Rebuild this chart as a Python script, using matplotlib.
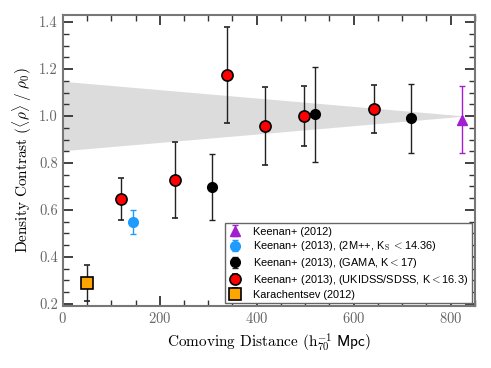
import numpy as np
import matplotlib.pyplot as plt

plt.rcParams['mathtext.fontset'] = 'cm'
plt.rcParams['font.family'] = 'cmr10'
plt.rcParams['axes.formatter.use_mathtext'] = True

# Data
kar_x, kar_y, kar_e = [50], [0.288], [0.078]
red_x = [121, 232, 339, 417, 498, 641]
red_y = [0.646, 0.729, 1.174, 0.959, 0.999, 1.031]
red_e = [0.090, 0.162, 0.205, 0.166, 0.128, 0.103]
blk_x = [307, 521, 718]
blk_y = [0.697, 1.007, 0.990]
blk_e = [0.140, 0.203, 0.148]
blu_x, blu_y, blu_e = [144], [0.548], [0.052]
pur_x, pur_y, pur_e = [824], [0.984], [0.143]

band_x = [0, 830]
band_lo = [0.852, 1.0]
band_hi = [1.148, 1.0]

fig = plt.figure(figsize=(4.91, 3.68), dpi=100)
ax = fig.add_axes([0.128, 0.168, 0.839, 0.791])

ax.fill_between(band_x, band_lo, band_hi, color='#dcdcdc', lw=0, zorder=1)

cap = dict(capsize=2.5, elinewidth=1.0, capthick=1.0, zorder=3)
h_kar = ax.errorbar(kar_x, kar_y, yerr=kar_e, fmt='s', ms=8, mfc='#ffa500', mec='black', mew=1.2, ecolor='#222222', **cap)
h_red = ax.errorbar(red_x, red_y, yerr=red_e, fmt='o', ms=8, mfc='#ff0000', mec='black', mew=1.2, ecolor='#222222', **cap)
h_blk = ax.errorbar(blk_x, blk_y, yerr=blk_e, fmt='o', ms=7, mfc='black', mec='black', ecolor='#222222', **cap)
h_blu = ax.errorbar(blu_x, blu_y, yerr=blu_e, fmt='o', ms=7, mfc='#1e9bff', mec='#1e9bff', ecolor='#1e9bff', **cap)
h_pur = ax.errorbar(pur_x, pur_y, yerr=pur_e, fmt='^', ms=7, mfc='#a020d0', mec='#a020d0', ecolor='#a020d0', **cap)

ax.set_xlim(0, 850)
ax.set_ylim(0.19, 1.43)
ax.set_xticks([0, 200, 400, 600, 800])
ax.set_xticks(np.arange(0, 851, 50), minor=True)
ax.set_yticks([0.2, 0.4, 0.6, 0.8, 1.0, 1.2, 1.4])
ax.set_yticks(np.arange(0.2, 1.43, 0.05), minor=True)
ax.set_yticklabels(['0.2', '0.4', '0.6', '0.8', '1.0', '1.2', '1.4'])
ax.tick_params(which='both', direction='in', top=True, right=True, color='#333333', labelcolor='#666666', labelsize=10.5)
ax.tick_params(which='major', length=7, width=1.3)
ax.tick_params(which='minor', length=4, width=1.0)
for s in ax.spines.values():
    s.set_color('#777777')
    s.set_linewidth(1.5)

ax.set_xlabel(r'Comoving Distance $(\mathrm{h}_{70}^{-1}\ \mathsf{Mpc})$', fontsize=11)
ax.set_ylabel(r'Density Contrast $(\langle\rho\rangle\ /\ \rho_0)$', fontsize=11)

leg = ax.legend([h_pur, h_blu, h_blk, h_red, h_kar],
                ['Keenan+ (2012)',
                 r'Keenan+ (2013), (2M++, K$_{\rm S}$ $<$14.36)',
                 r'Keenan+ (2013), (GAMA, K$<$17)',
                 r'Keenan+ (2013), (UKIDSS/SDSS, K$<$16.3)',
                 'Karachentsev (2012)'],
                loc='lower right', fancybox=False, framealpha=1, edgecolor='#666666',
                handlelength=1.2, handletextpad=1.0, borderpad=0.35, labelspacing=0.25,
                borderaxespad=0.25, prop={'family': 'Liberation Sans', 'size': 7.9})
leg.get_frame().set_linewidth(1.0)

fig.savefig('out.png', dpi=100)
